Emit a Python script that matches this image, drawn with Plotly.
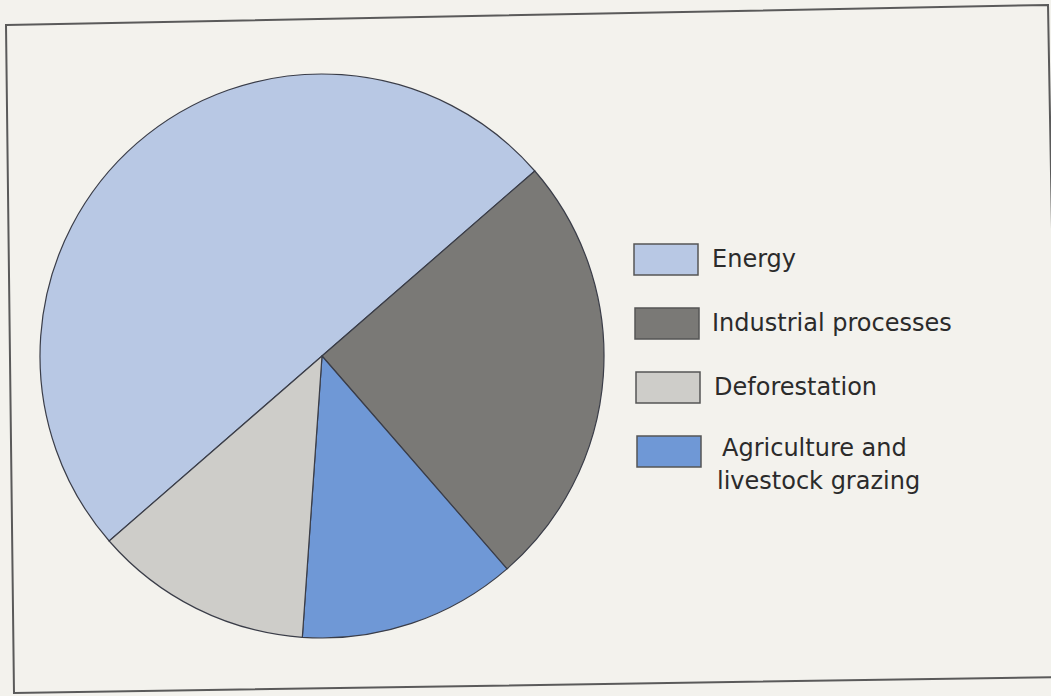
import plotly.graph_objects as go

# Sources of greenhouse gas emissions (share, %)
slice_labels = ["Energy", "Industrial processes", "Agriculture and livestock grazing", "Deforestation"]
slice_values = [50, 25, 12.5, 12.5]
slice_colors = ["#b8c8e4", "#7a7976", "#6f98d6", "#cecdc9"]

# Legend entries in display order
legend_labels = ["Energy", "Industrial processes", "Deforestation", "Agriculture and|livestock grazing"]
legend_colors = ["#b8c8e4", "#7a7976", "#cecdc9", "#6f98d6"]

W, H = 1051, 696


def px(x):
    return x / W


def py(y):
    return 1 - y / H


# pie geometry (pixels)
cx, cy, r = 322, 356, 282

fig = go.Figure(
    go.Pie(
        labels=slice_labels,
        values=slice_values,
        sort=False,
        direction="clockwise",
        rotation=229,
        marker=dict(colors=slice_colors, line=dict(color="#3a3d48", width=1.2)),
        textinfo="none",
        showlegend=False,
        domain=dict(x=[px(cx - r), px(cx + r)], y=[py(cy + r), py(cy - r)]),
    )
)

shapes = []
annotations = []

# outer frame, slightly skewed
shapes.append(
    dict(
        type="path",
        xref="paper",
        yref="paper",
        path=(
            f"M {px(6)},{py(25)} L {px(1048)},{py(5)} "
            f"L {px(1060)},{py(677)} L {px(14)},{py(693)} Z"
        ),
        line=dict(color="#5a5a5a", width=2),
        fillcolor="rgba(0,0,0,0)",
        layer="below",
    )
)

# legend swatches and labels
box_left = [634, 635, 636, 637]
box_top = [244, 308, 372, 436]
text_left = [710, 710, 712, 715]
for i, (lab, col) in enumerate(zip(legend_labels, legend_colors)):
    x0, y0 = box_left[i], box_top[i]
    shapes.append(
        dict(
            type="rect",
            xref="paper",
            yref="paper",
            x0=px(x0),
            x1=px(x0 + 64),
            y0=py(y0 + 31),
            y1=py(y0),
            fillcolor=col,
            line=dict(color="#555555", width=1.5),
        )
    )
    lines = lab.split("|")
    for j, t in enumerate(lines):
        shift = 5 if (len(lines) > 1 and j == 0) else 0
        annotations.append(
            dict(
                xref="paper",
                yref="paper",
                x=px(text_left[i] + shift),
                y=py(y0 + 15 + j * 33 - (3 if len(lines) > 1 else 0)),
                xanchor="left",
                yanchor="middle",
                text=t,
                showarrow=False,
                font=dict(family="DejaVu Sans", size=24, color="#2b2b2b"),
            )
        )

fig.update_layout(
    width=W,
    height=H,
    autosize=False,
    margin=dict(l=0, r=0, t=0, b=0),
    paper_bgcolor="#f3f2ed",
    plot_bgcolor="#f3f2ed",
    shapes=shapes,
    annotations=annotations,
)

fig.write_html("out.html")
